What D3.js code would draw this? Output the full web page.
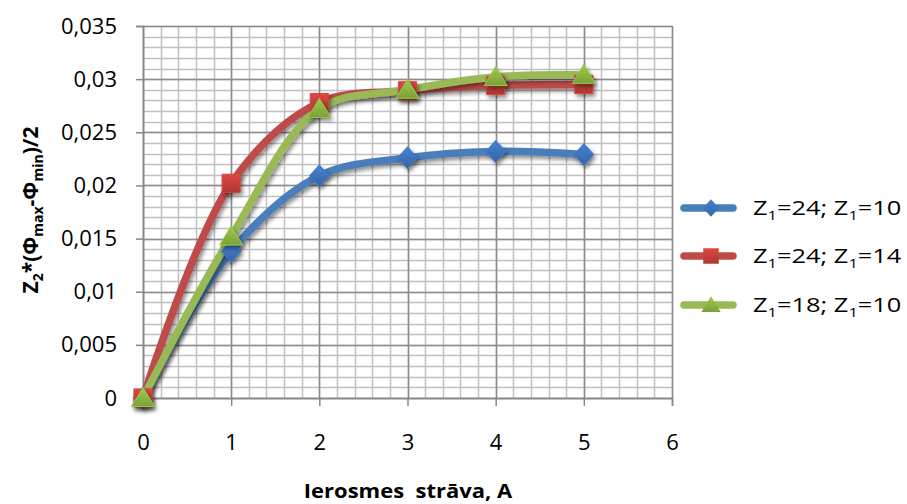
<!DOCTYPE html>
<html><head><meta charset="utf-8">
<script src="https://cdn.jsdelivr.net/npm/d3@7"></script>
<style>
body{margin:0;background:#fff;}
text{font-family:"Open Sans",sans-serif;fill:#000;}
</style></head>
<body><svg id="c" width="907" height="504"></svg>
<script>
const xValues = [0, 1, 2, 3, 4, 5];
const seriesNames = ["Z1=24; Z1=10", "Z1=24; Z1=14", "Z1=18; Z1=10"];
const seriesA = [0, 0.0138, 0.0209, 0.0226, 0.0232, 0.0229];
const seriesB = [0, 0.0202, 0.0278, 0.0289, 0.0294, 0.0295];
const seriesC = [0, 0.0152, 0.0272, 0.0290, 0.0302, 0.0304];
const xTicks = [0, 1, 2, 3, 4, 5, 6];
const yTicks = [0, 0.005, 0.01, 0.015, 0.02, 0.025, 0.03, 0.035];
const yTickLabels = ["0", "0,005", "0,01", "0,015", "0,02", "0,025", "0,03", "0,035"];

const colors = ["#4a7ebb", "#be4b48", "#98b954"];
const markerFill = ["#3d74be", "#c8403a", "#8db843"];

const diamond = {draw(ctx, size) { const w = Math.sqrt(size) * 0.5, h = Math.sqrt(size) * 0.55;
  ctx.moveTo(0, -h); ctx.lineTo(w, 0); ctx.lineTo(0, h); ctx.lineTo(-w, 0); ctx.closePath(); }};
const square = {draw(ctx, size) { const s = Math.sqrt(size) / 2;
  ctx.moveTo(-s, -s); ctx.lineTo(s, -s); ctx.lineTo(s, s); ctx.lineTo(-s, s); ctx.closePath(); }};
const tri = {draw(ctx, size) { const s = Math.sqrt(size) / 2;
  ctx.moveTo(0, -s * 1.05); ctx.lineTo(s * 1.15, s * 0.85); ctx.lineTo(-s * 1.15, s * 0.85); ctx.closePath(); }};
const markerTypes = [diamond, square, tri];
const markerSizes = [400, 330, 400];
const legendSizes = [260, 240, 280];

const svg = d3.select("#c");
const L = 143, R = 672, T = 26, B = 398;
const x = d3.scaleLinear().domain([0, 6]).range([L, R]);
const y = d3.scaleLinear().domain([0, 0.035]).range([B, T]);

const defs = svg.append("defs");
const f = defs.append("filter").attr("id", "sh").attr("x", "-50%").attr("y", "-50%").attr("width", "200%").attr("height", "200%");
f.append("feGaussianBlur").attr("in", "SourceAlpha").attr("stdDeviation", 2);
f.append("feOffset").attr("dx", 2).attr("dy", 3).attr("result", "ob");
f.append("feComponentTransfer").append("feFuncA").attr("type", "linear").attr("slope", 0.45);
const m = f.append("feMerge"); m.append("feMergeNode"); m.append("feMergeNode").attr("in", "SourceGraphic");

colors.forEach((c, i) => {
  const g = defs.append("linearGradient").attr("id", "g" + i).attr("x1", 0).attr("y1", 0).attr("x2", 0).attr("y2", 1);
  g.append("stop").attr("offset", "0%").attr("stop-color", d3.color(markerFill[i]).brighter(0.3));
  g.append("stop").attr("offset", "100%").attr("stop-color", d3.color(markerFill[i]).darker(0.4));
});

// grid
const grid = svg.append("g");
const minorX = d3.range(0, 6.0001, 0.2);
const minorY = d3.range(0, 0.03501, 0.001);
grid.selectAll(".mx").data(minorX).join("line")
  .attr("x1", d => Math.round(x(d)) + 0.5).attr("x2", d => Math.round(x(d)) + 0.5)
  .attr("y1", T).attr("y2", B).attr("stroke", "#c0c0c0").attr("stroke-width", 1.5);
grid.selectAll(".my").data(minorY).join("line")
  .attr("y1", d => Math.round(y(d)) + 0.5).attr("y2", d => Math.round(y(d)) + 0.5)
  .attr("x1", L).attr("x2", R).attr("stroke", "#c0c0c0").attr("stroke-width", 1.5);
grid.selectAll(".Mx").data(xTicks).join("line")
  .attr("x1", d => Math.round(x(d)) + 0.5).attr("x2", d => Math.round(x(d)) + 0.5)
  .attr("y1", T).attr("y2", B).attr("stroke", "#8c8c8c").attr("stroke-width", 1.5);
grid.selectAll(".My").data(yTicks).join("line")
  .attr("y1", d => Math.round(y(d)) + 0.5).attr("y2", d => Math.round(y(d)) + 0.5)
  .attr("x1", L).attr("x2", R).attr("stroke", "#8c8c8c").attr("stroke-width", 1.5);

// axes
const xa = svg.append("g").attr("transform", `translate(0,${B})`)
  .call(d3.axisBottom(x).tickValues(xTicks).tickSize(8).tickPadding(28).tickFormat(d3.format("d")));
const ya = svg.append("g").attr("transform", `translate(${L},0)`)
  .call(d3.axisLeft(y).tickValues(yTicks).tickSize(7).tickPadding(19).tickFormat((d, i) => yTickLabels[i]));
[xa, ya].forEach(a => {
  a.select(".domain").attr("stroke", "#868686").attr("stroke-width", 1.5);
  a.selectAll(".tick line").attr("stroke", "#868686").attr("stroke-width", 1.5);
  a.selectAll("text").attr("font-size", 22).attr("font-family", "'Open Sans',sans-serif").attr("fill", "#000");
});

// lines
const all = [seriesA, seriesB, seriesC];
const line = d3.line().x((d, i) => x(xValues[i])).y(d => y(d)).curve(d3.curveCatmullRom.alpha(0.5));
const lg = svg.append("g");
all.forEach((s, i) => {
  lg.append("path").datum(s).attr("d", line).attr("fill", "none")
    .attr("stroke", colors[i]).attr("stroke-width", 7.5).attr("stroke-linecap", "round").attr("stroke-linejoin", "round")
    .attr("filter", "url(#sh)");
});
all.forEach((s, i) => {
  lg.selectAll(".m" + i).data(s).join("path")
    .attr("transform", (d, j) => `translate(${x(xValues[j])},${y(d)})`)
    .attr("d", d3.symbol().type(markerTypes[i]).size(markerSizes[i]))
    .attr("fill", `url(#g${i})`).attr("stroke", d3.color(markerFill[i]).brighter(0.2)).attr("stroke-width", 1)
    .attr("filter", "url(#sh)");
});

// legend
const leg = svg.append("g");
const legY = [208, 256, 305];
seriesNames.forEach((n, i) => {
  const g = leg.append("g").attr("transform", `translate(0,${legY[i]})`);
  g.append("line").attr("x1", 684).attr("x2", 733).attr("y1", 0).attr("y2", 0)
    .attr("stroke", colors[i]).attr("stroke-width", 7.5).attr("stroke-linecap", "round");
  g.append("path").attr("transform", "translate(711,0)")
    .attr("d", d3.symbol().type(markerTypes[i]).size(legendSizes[i]))
    .attr("fill", `url(#g${i})`);
  const t = g.append("text").attr("transform", "translate(753,7) scale(1.27,1)").attr("font-size", 20);
  const rest = n.replace(/Z1/g, "|").split("|").slice(1);
  rest.forEach(r => {
    t.append("tspan").text("Z");
    t.append("tspan").text("1").attr("font-size", 13).attr("dy", 5);
    t.append("tspan").text(r).attr("dy", -5);
  });
});

// y title
const yt = svg.append("text").attr("transform", "translate(38,210) rotate(-90)")
  .attr("text-anchor", "middle").attr("font-size", 21).attr("font-weight", "bold");
yt.append("tspan").text("Z");
yt.append("tspan").text("2").attr("font-size", 14).attr("dy", 5);
yt.append("tspan").text("*(Φ").attr("dy", -5);
yt.append("tspan").text("max").attr("font-size", 14).attr("dy", 5);
yt.append("tspan").text("-Φ").attr("dy", -5);
yt.append("tspan").text("min").attr("font-size", 14).attr("dy", 5);
yt.append("tspan").text(")/2").attr("dy", -5);

// x title
svg.append("text").attr("transform", "translate(408,498) scale(1.1,1)").attr("text-anchor", "middle")
  .attr("font-size", 20).attr("font-weight", "bold").style("white-space", "pre")
  .text("Ierosmes  strāva, A");
</script></body></html>
